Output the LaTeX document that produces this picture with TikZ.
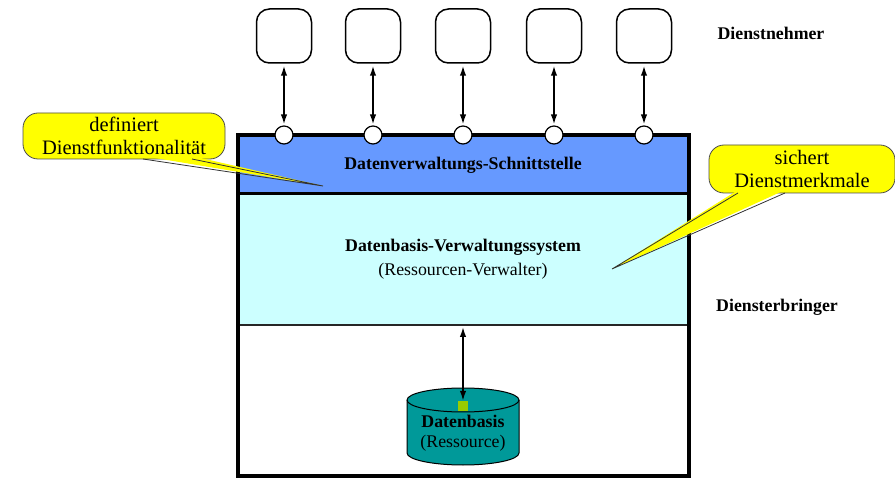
\documentclass[tikz,border=0pt]{standalone}
\usepackage{fontspec}
\setmainfont{Liberation Serif}
\usetikzlibrary{arrows.meta}
\definecolor{ifblue}{HTML}{6699FF}
\definecolor{mgrcyan}{HTML}{CCFFFF}
\definecolor{dbteal}{HTML}{009999}
\definecolor{portgreen}{HTML}{99CC00}
\definecolor{notefill}{HTML}{FFFF00}
\begin{document}
\begin{tikzpicture}[x=1pt,y=-1pt,
  client/.style={draw, line width=1.5pt, fill=white, rounded corners=13pt,
    minimum width=55pt, minimum height=54pt, inner sep=0pt},
  port/.style={circle, draw, line width=1.2pt, fill=white, minimum size=18pt, inner sep=0pt},
  biarrow/.style={line width=1.6pt, {Latex[length=10pt,width=6.5pt]}-{Latex[length=10pt,width=6.5pt]}},
  boldlabel/.style={font=\bfseries\fontsize{17.8}{20}\selectfont, inner sep=0pt},
  plainlabel/.style={font=\fontsize{17.8}{20}\selectfont, inner sep=0pt},
  note/.style={draw=black!70, line width=0.8pt, fill=notefill, rounded corners=15pt,
    align=center, inner sep=0pt, font=\fontsize{20.5}{23}\selectfont},
  notetail/.style={draw=black!80, line width=0.8pt}]
\useasboundingbox (0,0) rectangle (895,478);

% layers of the service provider
\fill[ifblue] (238,135) rectangle (689,194);
\fill[mgrcyan] (238,194) rectangle (689,325);
\fill[white] (238,325) rectangle (689,476);
\draw[line width=1.5pt, black!85] (238,325) -- (689,325);
\draw[line width=3pt] (238,194) -- (689,194);
\draw[line width=3.5pt] (238,135) rectangle (689,476);

\node[boldlabel] (iftext) at (463,165) {Datenverwaltungs-Schnittstelle};
\node[boldlabel] (mgrtext) at (463,247) {Datenbasis-Verwaltungssystem};
\node[plainlabel] (mgrsub) at (463,271) {(Ressourcen-Verwalter)};

% service consumers with their ports
\foreach \i/\x in {1/284,2/373,3/463,4/554,5/644}{
  \node[client] (u\i) at (\x,36) {};
  \node[port] (p\i) at (\x,135) {};
  \draw[biarrow, shorten <=2pt, shorten >=1pt] (u\i.south) -- (p\i.north);
}

% database cylinder (y axis points down, so arcs run the other way)
\fill[dbteal, draw=black, line width=1pt]
  (407,400) -- (407,453) arc[start angle=180, end angle=0, x radius=56, y radius=12]
  -- (519,400) arc[start angle=0, end angle=-180, x radius=56, y radius=12] -- cycle;
\draw[line width=1pt] (407,400) arc[start angle=180, end angle=0, x radius=56, y radius=12];
\node[fill=portgreen, minimum size=10pt, inner sep=0pt] (dbport) at (463,406) {};
\coordinate (mgrbottom) at (463,326);
\draw[biarrow, shorten <=1pt] (mgrbottom) -- (dbport.north);
\node[boldlabel] (dbtext) at (463,421) {Datenbasis};
\node[plainlabel] (dbsub) at (463,443) {(Ressource)};

% role labels
\node[boldlabel] (consumer) at (771,33) {Dienstnehmer};
\node[boldlabel] (provider) at (777,307) {Diensterbringer};

% callout: interface
\node[note, minimum width=202pt, minimum height=46pt] (n1) at (124,136)
  {definiert\\Dienstfunktionalität};
\coordinate (t1) at (323,186);
\fill[notefill] (143,156) -- (t1) -- (192,156) -- cycle;
\draw[notetail] (143,159) -- (t1) -- (192,159);

% callout: manager
\node[note, minimum width=186pt, minimum height=48pt] (n2) at (802,169)
  {sichert\\Dienstmerkmale};
\coordinate (t2) at (612,269);
\fill[notefill] (738,190) -- (t2) -- (785,190) -- cycle;
\draw[notetail] (738,193) -- (t2) -- (785,193);
\end{tikzpicture}
\end{document}
